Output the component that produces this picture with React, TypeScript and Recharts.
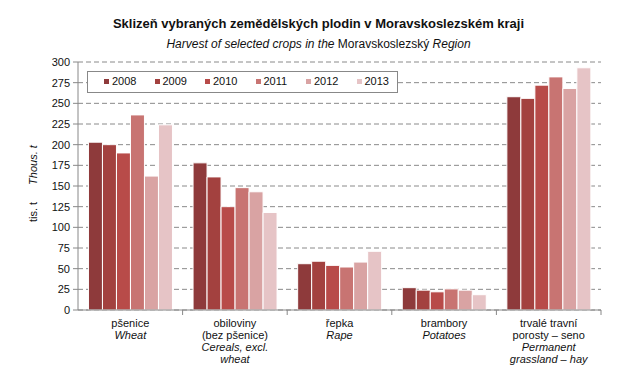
import React from "react";
import { BarChart, Bar, XAxis, YAxis, CartesianGrid } from "recharts";

const categoriesCz: string[][] = [
  ["pšenice"],
  ["obiloviny", "(bez pšenice)"],
  ["řepka"],
  ["brambory"],
  ["trvalé travní", "porosty – seno"],
];
const categoriesEn: string[][] = [
  ["Wheat"],
  ["Cereals, excl.", "wheat"],
  ["Rape"],
  ["Potatoes"],
  ["Permanent", "grassland – hay"],
];
const years = ["2008", "2009", "2010", "2011", "2012", "2013"];
const v2008 = [203, 178, 56, 27, 258];
const v2009 = [200, 161, 59, 24, 256];
const v2010 = [190, 125, 54, 22, 272];
const v2011 = [236, 148, 52, 25.5, 282];
const v2012 = [162, 143, 58, 24, 268];
const v2013 = [224, 118, 71, 18.5, 293];
const series = [v2008, v2009, v2010, v2011, v2012, v2013];
const colors = ["#8E3A3B", "#A3413F", "#B84B49", "#C87472", "#D9A3A3", "#E6C4C6"];
const yTicks = [0, 25, 50, 75, 100, 125, 150, 175, 200, 225, 250, 275, 300];

const data = categoriesCz.map((c, i) => {
  const row: any = { name: String(i) };
  years.forEach((y, j) => {
    row[y] = series[j][i];
  });
  return row;
});

const W = 637;
const H = 392;
const XH = 82;
const M = { top: 62, right: 36, bottom: 0, left: 38 };
const YW = 40;
const plotW = W - M.left - YW - M.right;
const bw = plotW / categoriesCz.length;

const FONT = "Arial, 'Liberation Sans', sans-serif";

const XTick = (props: any) => {
  const { x, y, payload } = props;
  const i = Number(payload.value);
  const lines: { t: string; it: boolean }[] = [
    ...categoriesCz[i].map((t) => ({ t, it: false })),
    ...categoriesEn[i].map((t) => ({ t, it: true })),
  ];
  return (
    <g>
      <line x1={x + bw / 2} y1={y} x2={x + bw / 2} y2={y + 5} stroke="#888" strokeWidth={1} />
      {lines.map((l, k) => (
        <text
          key={k}
          x={x}
          y={y + 17 + k * 12}
          textAnchor="middle"
          fontSize={11}
          fontFamily={FONT}
          fontStyle={l.it ? "italic" : "normal"}
          fill="#111"
        >
          {l.t}
        </text>
      ))}
    </g>
  );
};

export default function App() {
  return (
    <div style={{ position: "absolute", left: 0, top: 0, width: W, height: H, background: "#fff" }}>
      <div
        style={{
          position: "absolute",
          left: 0,
          top: 16,
          width: W,
          textAlign: "center",
          fontFamily: FONT,
          fontWeight: "bold",
          fontSize: 13,
          color: "#111",
        }}
      >
        Sklizeň vybraných zemědělských plodin v Moravskoslezském kraji
      </div>
      <div
        style={{
          position: "absolute",
          left: 0,
          top: 37,
          width: W,
          textAlign: "center",
          fontFamily: FONT,
          fontSize: 12,
          color: "#111",
        }}
      >
        <i>Harvest of selected crops in the</i> Moravskoslezský <i>Region</i>
      </div>
      <BarChart
        width={W}
        height={H}
        data={data}
        margin={M}
        barCategoryGap="10%"
        barGap={0}
      >
        <CartesianGrid vertical={false} stroke="#8a8a8a" strokeDasharray="5 3" />
        <YAxis
          width={YW}
          domain={[0, 300]}
          ticks={yTicks}
          interval={0}
          tick={{ fontSize: 11, fontFamily: FONT, fill: "#111" }}
          tickLine={{ stroke: "#888" }}
          tickSize={5}
          tickMargin={3}
          axisLine={{ stroke: "#888" }}
        />
        <XAxis
          dataKey="name"
          interval={0}
          tick={<XTick />}
          tickLine={false}
          tickSize={0}
          tickMargin={0}
          axisLine={{ stroke: "#888" }}
          height={XH}
        />
        {years.map((y, j) => (
          <Bar
            key={y}
            dataKey={y}
            fill={colors[j]}
            stroke="#fff"
            strokeWidth={1}
            isAnimationActive={false}
          />
        ))}
      </BarChart>
      <svg style={{ position: "absolute", left: 0, top: 0, pointerEvents: "none" }} width={W} height={H}>
        <text
          transform="translate(37,165) rotate(-90)"
          textAnchor="middle"
          fontSize={11}
          fontFamily={FONT}
          fontStyle="italic"
          fill="#111"
        >
          Thous. t
        </text>
        <text
          transform="translate(37,212) rotate(-90)"
          textAnchor="middle"
          fontSize={11}
          fontFamily={FONT}
          fill="#111"
        >
          tis. t
        </text>
      </svg>
      <div
        style={{
          position: "absolute",
          left: 87,
          top: 71,
          width: 311,
          height: 22,
          border: "1px solid #888",
          background: "#fff",
          boxSizing: "border-box",
        }}
      >
        {years.map((y, j) => (
          <div
            key={y}
            style={{
              position: "absolute",
              left: 16 + j * 50.5,
              top: 3,
              fontFamily: FONT,
              fontSize: 11,
              color: "#111",
              whiteSpace: "nowrap",
              display: "flex",
              alignItems: "center",
            }}
          >
            <span
              style={{
                display: "inline-block",
                width: 5,
                height: 5,
                background: colors[j],
                marginRight: 3,
              }}
            />
            {y}
          </div>
        ))}
      </div>
    </div>
  );
}
